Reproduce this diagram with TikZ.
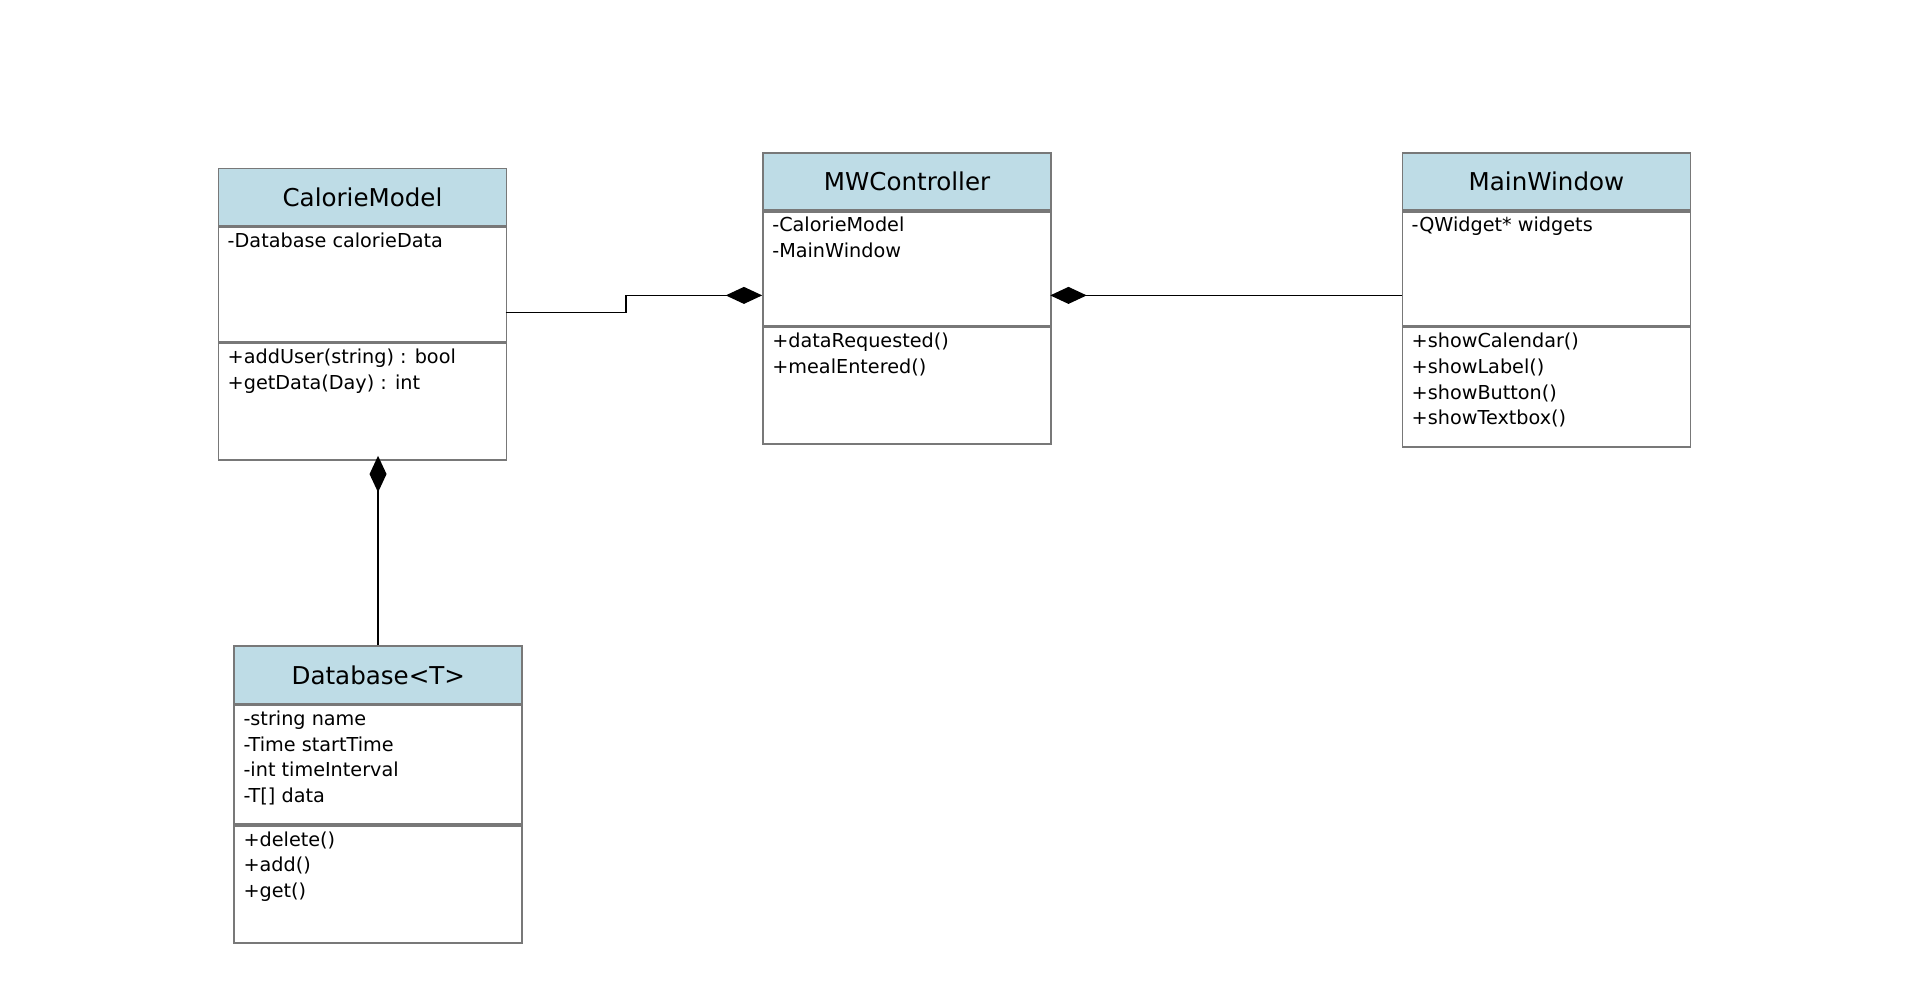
\documentclass[tikz,border=0pt]{standalone}
\usepackage{fontspec}
\setmainfont{DejaVu Sans}
\usetikzlibrary{arrows.meta}
\definecolor{headblue}{RGB}{190,220,230}
\definecolor{boxgray}{RGB}{120,120,120}
\begin{document}
\begin{tikzpicture}[
header/.style={rectangle, draw=boxgray, fill=headblue, thick, anchor=north west, minimum width=4.74cm, minimum height=0.94cm, inner sep=0pt, font=\fontsize{11.5}{14}\selectfont},
section/.style={rectangle, draw=boxgray, thick, anchor=north west, minimum width=4.74cm, inner sep=0pt},
members/.style={anchor=north west, inner sep=0pt, align=left, font=\fontsize{9}{12}\selectfont},
comp/.style={thick, -{Diamond[length=6mm, width=2.8mm]}},
]
\useasboundingbox (0,0) rectangle (31.36,-16.56);
% CalorieModel
\node[header] (cmH) at (3.58,-2.76) {CalorieModel};
\node[section, minimum height=1.88cm] (cmA) at (cmH.south west) {};
\node[section, minimum height=1.92cm] (cmM) at (cmA.south west) {};
\node[members] at ([shift={(0.16,-0.1)}]cmA.north west) {-Database calorieData};
\node[members] at ([shift={(0.16,-0.1)}]cmM.north west) {+addUser(string) : bool\\+getData(Day) : int};
% MWController
\node[header] (mcH) at (12.54,-2.50) {MWController};
\node[section, minimum height=1.88cm] (mcA) at (mcH.south west) {};
\node[section, minimum height=1.92cm] (mcM) at (mcA.south west) {};
\node[members] at ([shift={(0.16,-0.1)}]mcA.north west) {-CalorieModel\\-MainWindow};
\node[members] at ([shift={(0.16,-0.1)}]mcM.north west) {+dataRequested()\\+mealEntered()};
% MainWindow
\node[header] (mwH) at (23.06,-2.50) {MainWindow};
\node[section, minimum height=1.88cm] (mwA) at (mwH.south west) {};
\node[section, minimum height=1.96cm] (mwM) at (mwA.south west) {};
\node[members] at ([shift={(0.16,-0.1)}]mwA.north west) {-QWidget* widgets};
\node[members] at ([shift={(0.16,-0.1)}]mwM.north west) {+showCalendar()\\+showLabel()\\+showButton()\\+showTextbox()};
% Database<T>
\node[header] (dbH) at (3.84,-10.62) {Database<T>};
\node[section, minimum height=1.96cm] (dbA) at (dbH.south west) {};
\node[section, minimum height=1.92cm] (dbM) at (dbA.south west) {};
\node[members] at ([shift={(0.16,-0.1)}]dbA.north west) {-string name\\-Time startTime\\-int timeInterval\\-T[] data};
\node[members] at ([shift={(0.16,-0.1)}]dbM.north west) {+delete()\\+add()\\+get()};
% connectors
\coordinate (cmOut) at (8.32,-5.14);
\coordinate (mcIn) at (12.54,-4.86);
\coordinate (mcOut) at (17.28,-4.86);
\coordinate (mwIn) at (23.06,-4.86);
\coordinate (cmBot) at (6.22,-7.50);
\coordinate (dbTop) at (6.22,-10.62);
\draw[comp] (cmOut) -- (10.30,-5.14) -- (10.30,-4.86) -- (mcIn);
\draw[comp] (mwIn) -- (mcOut);
\draw[comp] (dbTop) -- (cmBot);
\end{tikzpicture}
\end{document}
